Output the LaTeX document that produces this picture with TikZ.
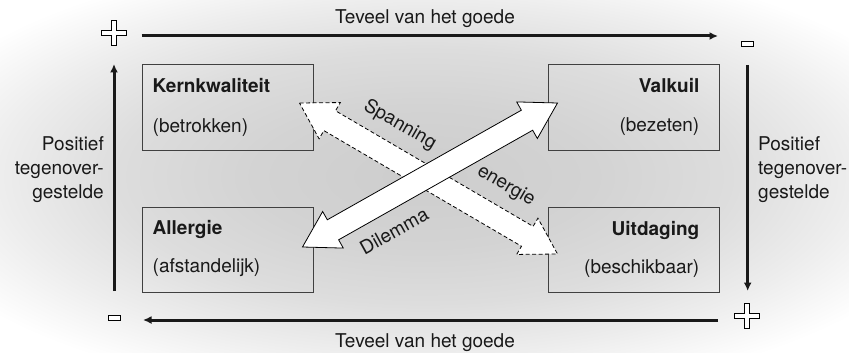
\documentclass[tikz,border=0pt]{standalone}
\usepackage{fontspec}
\setmainfont{TeX Gyre Heros}
\usetikzlibrary{calc,arrows.meta}

% backdrop: light grey in the middle, fading to white at the corners
\definecolor{bgcore}{HTML}{CDCDCD}
\definecolor{bgmid}{HTML}{D3D3D3}
\definecolor{bgouter}{HTML}{DDDDDD}
\definecolor{bgrim}{HTML}{EDEDED}
\pgfdeclareradialshading{backdrop}{\pgfpoint{0bp}{0bp}}{%
  color(0bp)=(bgcore); color(10bp)=(bgmid); color(18bp)=(bgouter);
  color(25bp)=(bgrim); color(32bp)=(white); color(50bp)=(white)}

% a broad double-headed arrow drawn as one outline between two tips
% (head length 35, head half-width 21, shaft half-width 11.5)
\newcommand\twoheaded[3]{%
  \path[#1] (#2)
    -- ($(#2)!35pt!(#3)!21pt!90:(#3)$)
    -- ($(#2)!35pt!(#3)!11.5pt!90:(#3)$)
    -- ($(#3)!35pt!(#2)!11.5pt!-90:(#2)$)
    -- ($(#3)!35pt!(#2)!21pt!-90:(#2)$)
    -- (#3)
    -- ($(#3)!35pt!(#2)!21pt!90:(#2)$)
    -- ($(#3)!35pt!(#2)!11.5pt!90:(#2)$)
    -- ($(#2)!35pt!(#3)!11.5pt!-90:(#3)$)
    -- ($(#2)!35pt!(#3)!21pt!-90:(#3)$)
    -- cycle;}

\tikzset{
  every node/.style={font=\fontsize{19}{23}\selectfont, inner sep=0pt, text=black!90},
  quadbox/.style={draw=black!75, line width=1pt, minimum width=171pt, minimum height=85pt},
  axisarrow/.style={line width=3pt, draw=black!90, -{Latex[length=8.5pt,width=8pt]}},
  solidarrow/.style={fill=white, draw=black, line width=0.8pt, line join=miter},
  dashedarrow/.style={solidarrow, dash pattern=on 4pt off 2.5pt},
  plussign/.pic={\draw[fill=white, line width=0.7pt]
    (-2.5,-12.3) -- (2.5,-12.3) -- (2.5,-2.5) -- (12.3,-2.5) -- (12.3,2.5) -- (2.5,2.5)
    -- (2.5,12.3) -- (-2.5,12.3) -- (-2.5,2.5) -- (-12.3,2.5) -- (-12.3,-2.5) -- (-2.5,-2.5) -- cycle;},
  minussign/.pic={\draw[fill=white, line width=0.7pt] (-5.8,-2.6) rectangle (5.8,2.6);},
}

\begin{document}
\begin{tikzpicture}[x=1pt, y=-1pt]
  \useasboundingbox (0,0) rectangle (849,353);
  \shade[shading=backdrop] (0,0) rectangle (849,353);

  % the four quadrants
  \node[quadbox] (kern) at (227.5,107.5) {};
  \node[quadbox] (valkuil) at (633.5,107.5) {};
  \node[quadbox] (allergie) at (227.5,249.5) {};
  \node[quadbox] (uitdaging) at (633.5,249.5) {};

  \node[anchor=base west] (kernT) at ($(kern.north west)+(11,28)$) {\bfseries Kernkwaliteit};
  \node[anchor=base west] (kernS) at ($(kern.north west)+(11,68)$) {(betrokken)};
  \node[anchor=base east] (valT) at ($(valkuil.north east)+(-20,28)$) {\bfseries Valkuil};
  \node[anchor=base east] (valS) at ($(valkuil.north east)+(-20,67)$) {(bezeten)};
  \node[anchor=base west] (allT) at ($(allergie.north west)+(11,28)$) {\bfseries Allergie};
  \node[anchor=base west] (allS) at ($(allergie.north west)+(11,66)$) {(afstandelijk)};
  \node[anchor=base east] (uitT) at ($(uitdaging.north east)+(-20,29)$) {\bfseries Uitdaging};
  \node[anchor=base east] (uitS) at ($(uitdaging.north east)+(-20,67)$) {(beschikbaar)};

  % tips of the two crossing arrows
  \coordinate (spanA) at ($(kern.east)+(-14,-4.5)$);
  \coordinate (spanB) at ($(uitdaging.west)+(10,4.5)$);
  \coordinate (dilA) at ($(allergie.east)+(-11,-2.5)$);
  \coordinate (dilB) at ($(valkuil.west)+(10,-4.5)$);

  \twoheaded{dashedarrow}{spanA}{spanB}
  \twoheaded{solidarrow}{dilA}{dilB}

  \node[rotate=-30] (spanning) at (400,125) {Spanning};
  \node[rotate=-30] (energie) at (506,186) {energie};
  \node[rotate=29] (dilemma) at (394,231) {Dilemma};

  % outer axes with their signs
  \pic at (114,33) {plussign};
  \pic at (747.5,44) {minussign};
  \pic at (747,316) {plussign};
  \pic at (114.3,318) {minussign};

  \coordinate (topL) at (141.7,36);
  \coordinate (topR) at (718,36);
  \coordinate (rightT) at (747.7,65);
  \coordinate (rightB) at (747.7,291);
  \coordinate (botR) at (718,320);
  \coordinate (botL) at (143,320);
  \coordinate (leftB) at (114,291);
  \coordinate (leftT) at (114,64);

  \draw[axisarrow] (topL) -- (topR);
  \draw[axisarrow] (rightT) -- (rightB);
  \draw[axisarrow] (botR) -- (botL);
  \draw[axisarrow] (leftB) -- (leftT);

  \node[anchor=base] (topText) at (425,23.5) {Teveel van het goede};
  \node[anchor=base] (botText) at (425,347) {Teveel van het goede};

  \node[anchor=base east] (lp1) at (104,150) {Positief};
  \node[anchor=base east] (lp2) at (104,174) {tegenover-};
  \node[anchor=base east] (lp3) at (104,198) {gestelde};
  \node[anchor=base west] (rp1) at (758,150) {Positief};
  \node[anchor=base west] (rp2) at (758,174) {tegenover-};
  \node[anchor=base west] (rp3) at (758,198) {gestelde};
\end{tikzpicture}
\end{document}
